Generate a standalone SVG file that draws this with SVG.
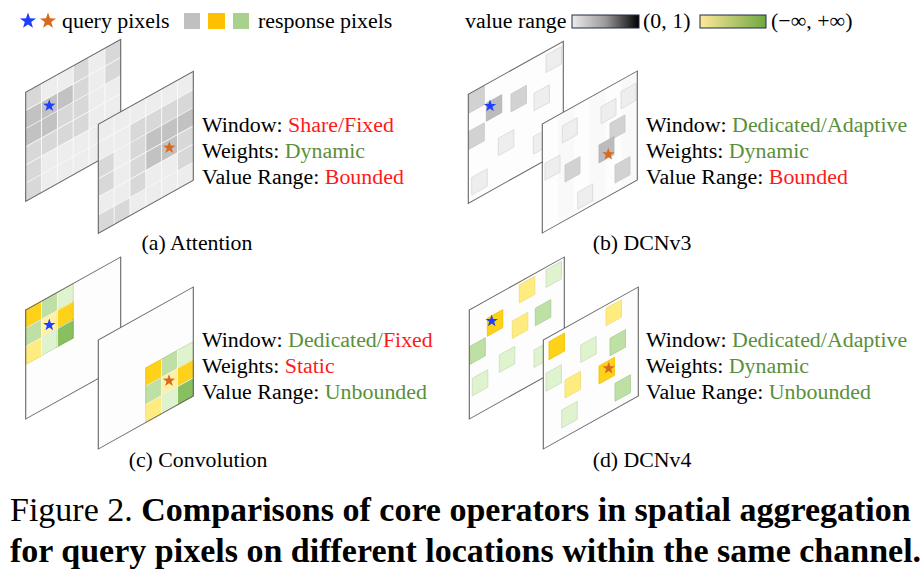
<svg xmlns="http://www.w3.org/2000/svg" width="924" height="580" viewBox="0 0 924 580">
<style>
text{font-family:"Liberation Serif","Times New Roman",serif;fill:#000}
.t{font-size:21.9px}
.cap{font-size:21.8px}
.red{fill:#ff1a1a}
.grn{fill:#5a8f3a}
.frame{fill:none;stroke:#666;stroke-width:1.1}
.bgA{fill:#ededed}
.bgW{fill:#fdfdfd}
.M{fill:#d8d8d8}
.D{fill:#c2c2c2}
.grid{stroke:#fafafa;stroke-width:0.9;fill:none}
.sq{stroke-width:0.7}
.g1{fill:#d2d2d2;stroke:#c8c8c8}
.g2{fill:#bcbcbc;stroke:#b4b4b4}
.g0{fill:#eeeeee;stroke:#d8d8d8}
.gold{fill:#ffd21a;stroke:#f0c000}
.yel{fill:#ffec80;stroke:#f0dc70}
.lg{fill:#bfe0a5;stroke:#aacb92}
.vlg{fill:#e0f3cf;stroke:#c8dcbc}
.dg{fill:#88c060;stroke:#78b050}
.pyl{fill:#fff2a8;stroke:#f0e090}
.sb{fill:#1f3fff}
.so{fill:#d86a1e}
</style>
<defs>
<path id="star" d="M0,-6.5 L1.528,-2.103 L6.182,-2.009 L2.473,0.803 L3.821,5.259 L0,2.6 L-3.821,5.259 L-2.473,0.803 L-6.182,-2.009 L-1.528,-2.103 Z"/>
<linearGradient id="gGray" x1="0" y1="0" x2="1" y2="0">
<stop offset="0" stop-color="#ececec"/><stop offset="0.5" stop-color="#9a9a9a"/><stop offset="1" stop-color="#000"/>
</linearGradient>
<linearGradient id="gGreen" x1="0" y1="0" x2="1" y2="0">
<stop offset="0" stop-color="#ffe89a"/><stop offset="1" stop-color="#6fa840"/>
</linearGradient>
<g id="gridlines">
<path class="grid" d="M15.83,0V109M31.67,0V109M47.5,0V109M63.33,0V109M79.17,0V109M0,18.17H95M0,36.33H95M0,54.5H95M0,72.67H95M0,90.83H95"/>
</g>
</defs>

<!-- Legend -->
<g id="legend">
<use href="#star" class="sb" transform="translate(28,21) scale(1.3)"/>
<use href="#star" class="so" transform="translate(48,21) scale(1.3)"/>
<text class="t" x="62" y="28">query pixels</text>
<rect x="184" y="13" width="16" height="16" fill="#c0c0c0"/>
<rect x="208" y="13" width="17" height="16" fill="#ffc000"/>
<rect x="233" y="13" width="16" height="16" fill="#a9d18e"/>
<text class="t" x="258" y="28">response pixels</text>
<text class="t" x="465" y="28">value range</text>
<rect x="572" y="15" width="67" height="13" fill="url(#gGray)" stroke="#1e2a48" stroke-width="1"/>
<text class="t" x="643" y="28">(0, 1)</text>
<rect x="700" y="15" width="66" height="13" fill="url(#gGreen)" stroke="#1e2a48" stroke-width="1"/>
<text class="t" x="771" y="28">(−∞, +∞)</text>
</g>

<!-- (a) Attention -->
<g id="attention">
<g transform="translate(25.7,92.3) skewY(-29.16)">
<rect class="bgA" width="95" height="109"/>
<rect class="M" x="0" y="0" width="15.83" height="18.17"/>
<rect class="D" x="0" y="18.17" width="15.83" height="36.33"/>
<rect class="M" x="0" y="54.5" width="15.83" height="54.5"/>
<rect class="D" x="15.83" y="18.17" width="15.83" height="36.33"/>
<rect class="M" x="15.83" y="54.5" width="15.83" height="18.17"/>
<rect class="D" x="31.67" y="18.17" width="15.83" height="18.17"/>
<rect class="M" x="31.67" y="36.33" width="15.83" height="36.33"/>
<rect class="M" x="47.5" y="0" width="15.83" height="72.67"/>
<rect class="M" x="79.17" y="0" width="15.83" height="36.33"/>
<use href="#gridlines"/>
<rect class="frame" width="95" height="109"/>
</g>
<g transform="translate(98.3,124.3) skewY(-29.16)">
<rect class="bgA" width="95" height="109"/>
<rect class="M" x="0" y="36.33" width="15.83" height="36.33"/>
<rect class="M" x="0" y="90.83" width="15.83" height="18.17"/>
<rect class="M" x="15.83" y="90.83" width="15.83" height="18.17"/>
<rect class="M" x="31.67" y="18.17" width="15.83" height="72.67"/>
<rect class="M" x="47.5" y="18.17" width="15.83" height="18.17"/>
<rect class="D" x="47.5" y="36.33" width="15.83" height="36.33"/>
<rect class="M" x="63.33" y="18.17" width="15.83" height="18.17"/>
<rect class="D" x="63.33" y="36.33" width="15.83" height="36.33"/>
<rect class="M" x="79.17" y="18.17" width="15.83" height="18.17"/>
<rect class="D" x="79.17" y="36.33" width="15.83" height="18.17"/>
<rect class="M" x="79.17" y="54.5" width="15.83" height="36.33"/>
<use href="#gridlines"/>
<rect class="frame" width="95" height="109"/>
</g>
<use href="#star" class="sb" x="49.3" y="105.7"/>
<use href="#star" class="so" x="169.3" y="147.7"/>
<text class="t" x="202" y="132">Window: <tspan class="red">Share/Fixed</tspan></text>
<text class="t" x="202" y="158">Weights: <tspan class="grn">Dynamic</tspan></text>
<text class="t" x="202" y="184">Value Range: <tspan class="red">Bounded</tspan></text>
<text class="cap" x="197" y="250" text-anchor="middle">(a) Attention</text>
</g>

<!-- (b) DCNv3 -->
<g id="dcnv3">
<g transform="translate(468.3,94.3) skewY(-29.16)">
<rect class="bgW" width="95" height="109"/>
<rect class="sq g1" x="0.5" y="0.7" width="15.5" height="18.5"/>
<rect class="sq g2" x="18" y="19" width="15.5" height="18"/>
<rect class="sq g1" x="42.7" y="23.5" width="15.5" height="18"/>
<rect class="sq g0" x="65.7" y="35.7" width="15.5" height="17.5"/>
<rect class="sq g0" x="77.7" y="4.1" width="15.5" height="17.5"/>
<rect class="sq g1" x="0.5" y="37.4" width="15.5" height="18"/>
<rect class="sq g0" x="30" y="60.7" width="15.5" height="17.5"/>
<rect class="sq g0" x="65" y="78.7" width="15.5" height="17.5"/>
<rect class="sq g0" x="3.4" y="85" width="15.5" height="17.5"/>
<rect class="frame" width="95" height="109"/>
</g>
<g transform="translate(542.3,124) skewY(-29.16)">
<rect class="bgW" width="95" height="109"/>
<rect x="15.83" width="15.83" height="109" fill="#f9f9f9"/>
<rect x="47.5" width="15.83" height="109" fill="#f9f9f9"/>
<rect x="79.17" width="15.83" height="109" fill="#f9f9f9"/>
<rect class="sq g0" x="2.7" y="40.8" width="15" height="17"/>
<rect class="sq g0" x="20" y="13.2" width="15" height="17"/>
<rect class="sq g1" x="22.7" y="53.7" width="15" height="17"/>
<rect class="sq g0" x="35.4" y="88" width="15" height="17"/>
<rect class="sq g0" x="58.7" y="15.5" width="15" height="17"/>
<rect class="sq g1" x="67.7" y="37.1" width="15" height="17"/>
<rect class="sq g2" x="56.7" y="52.6" width="15" height="18"/>
<rect class="sq g1" x="72.7" y="81.6" width="15" height="18"/>
<rect class="sq g0" x="78.7" y="11.6" width="15" height="17"/>
<rect class="frame" width="95" height="109"/>
</g>
<use href="#star" class="sb" x="490" y="106"/>
<use href="#star" class="so" x="608.3" y="154.3"/>
<text class="t" x="646" y="132">Window: <tspan class="grn">Dedicated/Adaptive</tspan></text>
<text class="t" x="646" y="158">Weights: <tspan class="grn">Dynamic</tspan></text>
<text class="t" x="646" y="184">Value Range: <tspan class="red">Bounded</tspan></text>
<text class="cap" x="642" y="250" text-anchor="middle">(b) DCNv3</text>
</g>

<!-- (c) Convolution -->
<g id="convolution">
<g transform="translate(25.7,310) skewY(-29.16)">
<rect class="bgW" width="95" height="109"/>
<rect class="gold" x="0" y="0" width="15.83" height="18.17"/>
<rect class="lg" x="0" y="18.17" width="15.83" height="18.17"/>
<rect class="yel" x="0" y="36.33" width="15.83" height="18.17"/>
<rect class="lg" x="15.83" y="0" width="15.83" height="18.17"/>
<rect class="pyl" x="15.83" y="18.17" width="15.83" height="18.17"/>
<rect class="vlg" x="15.83" y="36.33" width="15.83" height="18.17"/>
<rect class="vlg" x="31.67" y="0" width="15.83" height="18.17"/>
<rect class="gold" x="31.67" y="18.17" width="15.83" height="18.17"/>
<rect class="dg" x="31.67" y="36.33" width="15.83" height="18.17"/>
<path class="grid" d="M15.83,0V54.5M31.67,0V54.5M0,18.17H47.5M0,36.33H47.5"/>
<rect class="frame" width="95" height="109"/>
</g>
<g transform="translate(98.3,340) skewY(-29.16)">
<rect class="bgW" width="95" height="109"/>
<rect class="gold" x="47.5" y="54.5" width="15.83" height="18.17"/>
<rect class="lg" x="47.5" y="72.67" width="15.83" height="18.17"/>
<rect class="yel" x="47.5" y="90.83" width="15.83" height="18.17"/>
<rect class="lg" x="63.33" y="54.5" width="15.83" height="18.17"/>
<rect class="pyl" x="63.33" y="72.67" width="15.83" height="18.17"/>
<rect class="vlg" x="63.33" y="90.83" width="15.83" height="18.17"/>
<rect class="vlg" x="79.17" y="54.5" width="15.83" height="18.17"/>
<rect class="gold" x="79.17" y="72.67" width="15.83" height="18.17"/>
<rect class="dg" x="79.17" y="90.83" width="15.83" height="18.17"/>
<path class="grid" d="M63.33,54.5V109M79.17,54.5V109M47.5,72.67H95M47.5,90.83H95"/>
<rect class="frame" width="95" height="109"/>
</g>
<use href="#star" class="sb" x="49.3" y="325"/>
<use href="#star" class="so" x="169" y="380.7"/>
<text class="t" x="202" y="347">Window: <tspan class="grn">Dedicated/</tspan><tspan class="red">Fixed</tspan></text>
<text class="t" x="202" y="373">Weights: <tspan class="red">Static</tspan></text>
<text class="t" x="202" y="399">Value Range: <tspan class="grn">Unbounded</tspan></text>
<text class="cap" x="198" y="467" text-anchor="middle">(c) Convolution</text>
</g>

<!-- (d) DCNv4 -->
<g id="dcnv4">
<g transform="translate(469.3,310) skewY(-29.16)">
<rect class="bgW" width="95" height="109"/>
<rect class="sq vlg" x="76.7" y="2.8" width="15.5" height="17.5"/>
<rect class="sq yel" x="50" y="2.9" width="15.5" height="18"/>
<rect class="sq gold" x="18" y="18.3" width="15.5" height="18"/>
<rect class="sq yel" x="43" y="35" width="15.5" height="17.5"/>
<rect class="sq lg" x="66" y="35.1" width="15.5" height="17.5"/>
<rect class="sq lg" x="0.5" y="36.7" width="15.5" height="18"/>
<rect class="sq vlg" x="30" y="61.7" width="15.5" height="17.5"/>
<rect class="sq vlg" x="64.7" y="76.1" width="15.5" height="17.5"/>
<rect class="sq vlg" x="3" y="70" width="15.5" height="17.5"/>
<rect class="frame" width="95" height="109"/>
</g>
<g transform="translate(543.3,340) skewY(-29.16)">
<rect class="bgW" width="95" height="109"/>
<rect class="sq gold" x="5.7" y="4.9" width="15.5" height="18"/>
<rect class="sq vlg" x="2.7" y="34.8" width="15.5" height="18"/>
<rect class="sq yel" x="21.7" y="52.1" width="15.5" height="18"/>
<rect class="sq vlg" x="18.4" y="80.3" width="15.5" height="18"/>
<rect class="sq vlg" x="37.4" y="25.9" width="15.5" height="17.5"/>
<rect class="sq gold" x="55.7" y="57.1" width="15.5" height="18"/>
<rect class="sq yel" x="62.7" y="3.3" width="15.5" height="17.5"/>
<rect class="sq lg" x="66.7" y="35.5" width="15.5" height="17.5"/>
<rect class="sq lg" x="71.7" y="83.3" width="15.5" height="18"/>
<rect class="frame" width="95" height="109"/>
</g>
<use href="#star" class="sb" x="491.7" y="321"/>
<use href="#star" class="so" x="608.7" y="368.3"/>
<text class="t" x="646" y="347">Window: <tspan class="grn">Dedicated/Adaptive</tspan></text>
<text class="t" x="646" y="373">Weights: <tspan class="grn">Dynamic</tspan></text>
<text class="t" x="646" y="399">Value Range: <tspan class="grn">Unbounded</tspan></text>
<text class="cap" x="642" y="467" text-anchor="middle">(d) DCNv4</text>
</g>

<!-- Figure caption -->
<g id="caption">
<text x="10" y="521" font-size="34">Figure 2. <tspan font-weight="bold">Comparisons of core operators in spatial aggregation</tspan></text>
<text x="10" y="562" font-size="34" font-weight="bold">for query pixels on different locations within the same channel.</text>
</g>
</svg>
